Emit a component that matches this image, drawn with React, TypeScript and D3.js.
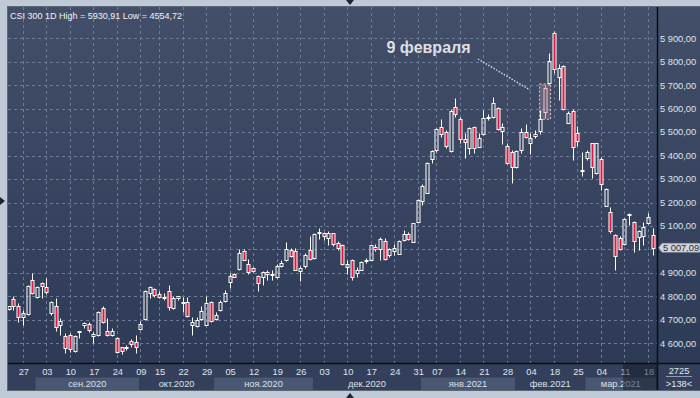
import React from 'react';
import * as d3 from 'd3';

// CSI 300, daily bars from 24 Aug 2020 to 19 Mar 2021
const opens = [
  4746, 4790, 4761, 4714, 4726, 4871, 4797, 4857, 4840, 4731,
  4760, 4680, 4631, 4636, 4569, 4647, 4680, 4683, 4640, 4634,
  4751, 4653, 4637, 4621, 4583, 4580, 4609, 4604, 4663, 4703,
  4814, 4831, 4810, 4796, 4823, 4749, 4800, 4774, 4777, 4680,
  4674, 4703, 4680, 4776, 4703, 4740, 4780, 4860, 4896, 4917,
  4994, 4939, 4919, 4886, 4883, 4904, 4893, 4883, 4929, 4954,
  4997, 4994, 4909, 4931, 4996, 4963, 5069, 5069, 5050, 5069,
  5028, 5021, 4926, 4957, 4900, 4914, 4952, 4957, 5011, 5000,
  5035, 4975, 4994, 4982, 5039, 5068, 5032, 5119, 5207, 5241,
  5384, 5426, 5523, 5502, 5419, 5608, 5554, 5469, 5433, 5523,
  5438, 5490, 5562, 5563, 5601, 5505, 5442, 5414, 5352, 5426,
  5499, 5452, 5493, 5504, 5584, 5708, 5921, 5734, 5783, 5540,
  5590, 5495, 5336, 5388, 5452, 5324, 5384, 5187, 5160, 5061,
  5047, 5022, 5153, 5115, 5051, 5056, 5111, 5061,
];
const highs = [
  4760, 4800, 4771, 4743, 4850, 4900, 4843, 4860, 4879, 4779,
  4791, 4706, 4643, 4643, 4636, 4653, 4691, 4689, 4649, 4736,
  4757, 4709, 4664, 4626, 4586, 4594, 4617, 4636, 4694, 4826,
  4846, 4836, 4821, 4814, 4849, 4800, 4803, 4797, 4797, 4710,
  4711, 4757, 4803, 4779, 4733, 4783, 4829, 4900, 4899, 5000,
  5000, 4960, 4924, 4893, 4907, 4914, 4914, 4936, 4957, 5031,
  5007, 5007, 4931, 4983, 5057, 5071, 5093, 5074, 5077, 5071,
  5037, 5025, 4957, 4961, 4926, 4951, 4965, 5021, 5025, 5051,
  5047, 5008, 5025, 5039, 5082, 5073, 5113, 5213, 5281, 5374,
  5426, 5516, 5554, 5509, 5597, 5644, 5563, 5495, 5523, 5526,
  5495, 5594, 5577, 5651, 5606, 5537, 5455, 5423, 5423, 5516,
  5534, 5495, 5509, 5594, 5701, 5836, 5930.91, 5791, 5786, 5591,
  5597, 5526, 5416, 5423, 5455, 5455, 5395, 5263, 5179, 5068,
  5056, 5136, 5156, 5120, 5085, 5118, 5157, 5093,
];
const lows = [
  4743, 4743, 4689, 4676, 4721, 4811, 4791, 4793, 4811, 4721,
  4654, 4637, 4557, 4564, 4564, 4624, 4664, 4650, 4600, 4631,
  4686, 4631, 4630, 4557, 4554.72, 4571, 4586, 4560, 4657, 4700,
  4793, 4797, 4793, 4786, 4743, 4746, 4786, 4734, 4711, 4637,
  4671, 4700, 4676, 4691, 4700, 4736, 4777, 4836, 4881, 4914,
  4954, 4897, 4906, 4824, 4849, 4871, 4869, 4877, 4926, 4949,
  4969, 4911, 4864, 4921, 4957, 4960, 5046, 5040, 5021, 5014,
  4997, 4933, 4897, 4871, 4883, 4911, 4943, 4954, 4994, 4957,
  4957, 4968, 4975, 4980, 5037, 5039, 5031, 5118, 5189, 5239,
  5367, 5416, 5480, 5431, 5416, 5566, 5455, 5388, 5406, 5413,
  5435, 5486, 5552, 5559, 5509, 5449, 5364, 5284, 5348, 5409,
  5473, 5406, 5477, 5494, 5559, 5705, 5751, 5637, 5594, 5537,
  5381, 5441, 5313, 5381, 5303, 5321, 5253, 5184, 5072, 4914,
  4997, 5018, 5105, 4991, 4997, 5018, 5108, 4975,
];
const closes = [
  4757, 4761, 4710, 4729, 4846, 4814, 4840, 4846, 4817, 4774,
  4670, 4694, 4581, 4574, 4629, 4653, 4686, 4656, 4631, 4733,
  4690, 4634, 4653, 4561, 4569, 4584, 4597, 4583, 4681, 4823,
  4840, 4806, 4797, 4799, 4754, 4793, 4791, 4777, 4716, 4691,
  4700, 4737, 4771, 4694, 4721, 4776, 4814, 4886, 4884, 4983,
  4957, 4906, 4909, 4857, 4903, 4896, 4896, 4931, 4943, 5003,
  4974, 4914, 4921, 4977, 4960, 5067, 5073, 5057, 5069, 5024,
  5007, 4940, 4940, 4883, 4914, 4946, 4955, 5017, 5000, 5045,
  4961, 5004, 5007, 5037, 5064, 5044, 5111, 5210, 5270, 5367,
  5419, 5512, 5490, 5441, 5591, 5577, 5469, 5458, 5516, 5433,
  5473, 5561, 5566, 5623, 5512, 5523, 5369, 5352, 5419, 5500,
  5480, 5473, 5483, 5557, 5687, 5805, 5768, 5775, 5597, 5580,
  5435, 5463, 5340, 5416, 5350, 5452, 5278, 5258, 5079, 4971,
  5000, 5128, 5145, 5037, 5078, 5096, 5139, 5007.09,
];

// weekly ticks (bar index of each labelled day)
const tickIdx = [3, 8, 13, 18, 23, 28, 32, 37, 42, 47, 52, 57, 62, 67, 72, 77, 82, 87, 91, 96, 101, 106, 111, 116, 121, 126, 131, 136];
const tickLabels = ['27', '03', '10', '17', '24', '09', '15', '22', '29', '05', '12', '19', '26', '03', '10', '17', '24', '31', '07', '14', '21', '28', '04', '18', '25', '04', '11', '18'];

const monthNames = ['сен.2020', 'окт.2020', 'ноя.2020', 'дек.2020', 'янв.2021', 'фев.2021', 'мар.2021'];
const monthStart = [6, 28, 44, 65, 88, 108, 123];
const monthEnd = [27, 43, 64, 87, 107, 122, 137];

const yTicks = [4600, 4700, 4800, 4900, 5000, 5100, 5200, 5300, 5400, 5500, 5600, 5700, 5800, 5900];

const highlightIdx = 114; // 9 Feb 2021
const lastValue = 5007.09;
const lastPrice = '5 007,09';

const FONT = '"Liberation Sans", Arial, sans-serif';

const fmtPrice = (v: number) => `${Math.floor(v / 1000)} ${String(v % 1000).padStart(3, '0')},00`;

export default function App() {
  const left = 8, top = 7, plotRight = 657, plotBottom = 363, right = 700, bottom = 390;

  const x = d3.scaleLinear().domain([0, opens.length - 1]).range([9.7, 653.7]);
  const y = d3.scaleLinear().domain([4600, 5900]).range([343.3, 38.3]);
  const step = x(1) - x(0);
  const yLast = y(lastValue);

  const candles = opens.map((o, i) => {
    const c = closes[i];
    const px = Math.round(x(i));
    const up = c >= o;
    const yTop = Math.round(y(Math.max(o, c))) + 0.5;
    let yBot = Math.round(y(Math.min(o, c))) + 0.5;
    if (yBot - yTop < 1) yBot = yTop + 1;
    const yH = Math.round(y(highs[i])) + 0.5;
    const yL = Math.round(y(lows[i])) + 0.5;
    const hl = i === highlightIdx;
    const stroke = hl ? '#f0c6cc' : '#ffffff';
    return (
      <g key={i}>
        {yH < yTop && <line x1={px - 0.5} x2={px - 0.5} y1={yH} y2={yTop} stroke={stroke} strokeWidth={1} />}
        {yL > yBot && <line x1={px - 0.5} x2={px - 0.5} y1={yBot} y2={yL} stroke={stroke} strokeWidth={1} />}
        <rect x={px - 2} y={yTop} width={3} height={yBot - yTop}
          fill={up ? 'none' : '#e3173d'} stroke={stroke} strokeWidth={1} />
      </g>
    );
  });

  const hx = x(highlightIdx);

  return (
    <svg width={700} height={398} style={{ position: 'absolute', left: 0, top: 0, display: 'block' }}>
      <defs>
        <linearGradient id="bg" x1="0" y1="0" x2="0" y2="1">
          <stop offset="0%" stopColor="#434f69" />
          <stop offset="100%" stopColor="#2c3955" />
        </linearGradient>
        <clipPath id="plotClip">
          <rect x={left} y={top} width={plotRight - left} height={plotBottom - top} />
        </clipPath>
      </defs>

      {/* frame */}
      <rect x={0} y={0} width={700} height={398} fill="#c0cad7" />
      <rect x={left} y={top} width={right - left} height={bottom - top} fill="url(#bg)" />
      <rect x={left - 0.5} y={top - 0.5} width={right - left + 1} height={bottom - top + 1} fill="none" stroke="#5d6878" />
      <path d="M346,0 L354,0 L350,5 Z" fill="#1e2531" />
      <path d="M346,398 L354,398 L350,393 Z" fill="#1e2531" />
      <path d="M0,197 L0,205 L5,201 Z" fill="#1e2531" />

      {/* grid */}
      <g clipPath="url(#plotClip)">
        {yTicks.map((v) => (
          <line key={v} x1={left} x2={plotRight} y1={Math.round(y(v)) + 0.5} y2={Math.round(y(v)) + 0.5}
            stroke="#6b7a97" strokeDasharray="3,3" strokeWidth={1} />
        ))}
        {tickIdx.map((t) => (
          <line key={t} x1={Math.round(x(t)) - 0.5} x2={Math.round(x(t)) - 0.5} y1={top} y2={plotBottom}
            stroke="#6b7a97" strokeDasharray="3,3" strokeWidth={1} />
        ))}
      </g>

      {/* title */}
      <text x={10} y={18.5} fontFamily={FONT} fontSize={9} fill="#eef2f7">
        CSI 300 1D High = 5930,91 Low = 4554,72
      </text>

      {/* annotation */}
      <rect x={hx - 6} y={y(highs[highlightIdx]) - 1} width={11} height={y(lows[highlightIdx]) - y(highs[highlightIdx]) + 2}
        fill="rgba(225,170,180,0.25)" stroke="#e6c2c8" strokeDasharray="2,2" strokeWidth={1} />
      <line x1={478} y1={59} x2={530} y2={90} stroke="#d6d9de" strokeWidth={1.4} strokeDasharray="1.5,1.5" />
      <text x={386.5} y={52.5} fontFamily={FONT} fontSize={16} fontWeight="bold" fill="#dedfe2">9 февраля</text>

      <g clipPath="url(#plotClip)">{candles}</g>

      {/* bottom axis */}
      <rect x={left} y={plotBottom} width={right - left} height={bottom - plotBottom} fill="#34405b" />
      {monthNames.map((m, i) => {
        const x0 = Math.max(left, x(monthStart[i]) - step / 2);
        const x1 = Math.min(plotRight, x(monthEnd[i]) + step / 2);
        return (
          <g key={m}>
            {i % 2 === 0 && <rect x={x0} y={377.5} width={x1 - x0} height={12.5} fill="#4a5772" />}
            <text x={(x0 + x1) / 2} y={386.5} textAnchor="middle" fontFamily={FONT} fontSize={9.3} fill="#d9e0ea">{m}</text>
          </g>
        );
      })}
      {tickIdx.map((t, i) => (
        <text key={t} x={x(t)} y={375} textAnchor="middle" fontFamily={FONT} fontSize={9.3} fill="#dce3ec">{tickLabels[i]}</text>
      ))}
      <rect x={623} y={plotBottom} width={plotRight - 623} height={bottom - plotBottom} fill="rgba(18,25,40,0.5)" />

      {/* right axis (labels under the last-price marker are hidden) */}
      {yTicks.filter((v) => Math.abs(y(v) - yLast) > 9).map((v) => (
        <text key={v} x={660} y={y(v) + 3.3} fontFamily={FONT} fontSize={9.3} fill="#dde4ee">{fmtPrice(v)}</text>
      ))}
      <path d={`M658.5,${yLast} L662,${yLast - 4.5} L700,${yLast - 4.5} L700,${yLast + 4.5} L662,${yLast + 4.5} Z`}
        fill="#cfd4dc" stroke="#8e97a6" strokeWidth={0.6} />
      <text x={663} y={yLast + 3.3} fontFamily={FONT} fontSize={9.3} fill="#2b2f38">{lastPrice}</text>

      {/* corner box */}
      <text x={679} y={374} textAnchor="middle" fontFamily={FONT} fontSize={9.3} fill="#e2e8f0">2725</text>
      <line x1={666} x2={692} y1={376.5} y2={376.5} stroke="#aab4c4" strokeWidth={0.8} />
      <text x={679} y={386.5} textAnchor="middle" fontFamily={FONT} fontSize={9.3} fill="#e2e8f0">&gt;138&lt;</text>

      {/* panel separators */}
      <line x1={plotRight + 0.5} x2={plotRight + 0.5} y1={top} y2={bottom} stroke="#0b0e14" strokeWidth={1.5} />
      <line x1={left} x2={right} y1={plotBottom + 0.5} y2={plotBottom + 0.5} stroke="#0b0e14" strokeWidth={1.5} />
    </svg>
  );
}
